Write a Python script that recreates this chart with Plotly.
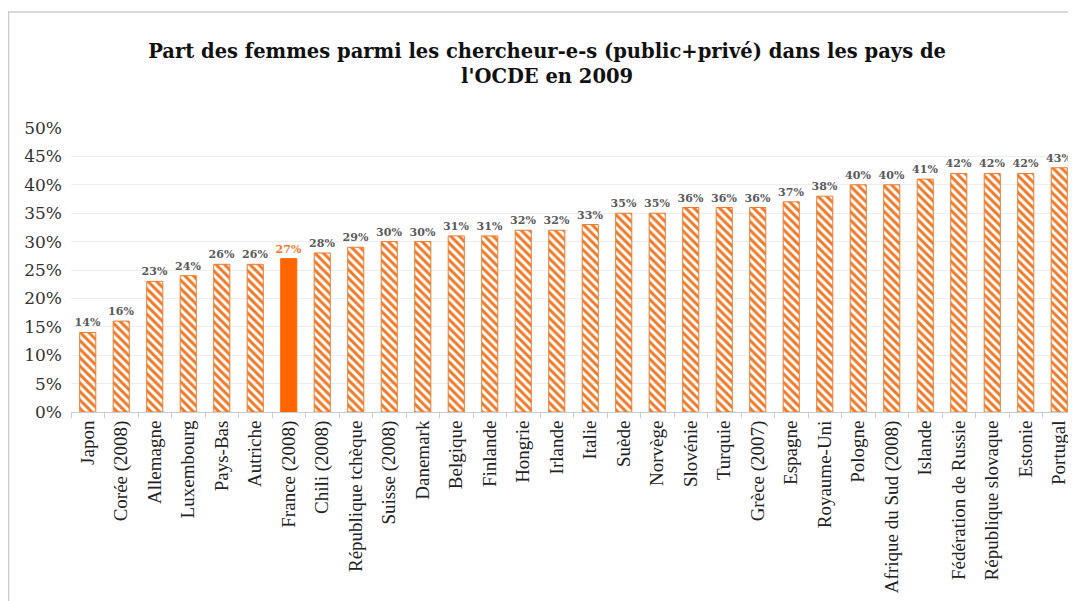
import plotly.graph_objects as go

countries = ["Japon", "Corée (2008)", "Allemagne", "Luxembourg", "Pays-Bas", "Autriche",
             "France (2008)", "Chili (2008)", "République tchèque", "Suisse (2008)", "Danemark",
             "Belgique", "Finlande", "Hongrie", "Irlande", "Italie", "Suède", "Norvège",
             "Slovénie", "Turquie", "Grèce (2007)", "Espagne", "Royaume-Uni", "Pologne",
             "Afrique du Sud (2008)", "Islande", "Fédération de Russie", "République slovaque",
             "Estonie", "Portugal"]
values = [14, 16, 23, 24, 26, 26, 27, 28, 29, 30, 30, 31, 31, 32, 32, 33, 35, 35, 36, 36,
          36, 37, 38, 40, 40, 41, 42, 42, 42, 43]
highlight = "France (2008)"
y_ticks = [0, 5, 10, 15, 20, 25, 30, 35, 40, 45, 50]

ORANGE = "#EE7A2A"
SOLID = "#FF6600"

W, H = 1076, 601
L, R, T, B = 63, 8, 120, 197
pw, ph = W - L - R, H - T - B

shapes_pat = ["" if c == highlight else "\\" for c in countries]
colors = [SOLID if c == highlight else ORANGE for c in countries]
label_colors = [ORANGE if c == highlight else "#5A5A5A" for c in countries]

fig = go.Figure()
fig.add_trace(go.Bar(
    x=countries, y=values,
    marker=dict(
        color=colors,
        line=dict(color=colors, width=1),
        pattern=dict(shape=shapes_pat, fgcolor=colors, bgcolor="#FFFFFF",
                     size=6, solidity=0.5, fillmode="replace"),
    ),
    text=[f"<b>{v}%</b>" for v in values],
    textposition="outside",
    constraintext="none",
    textfont=dict(family="DejaVu Serif", size=11, color=label_colors),
    cliponaxis=False,
    hoverinfo="skip",
))

fy = lambda py: (H - B - py) / ph   # figure pixel y -> paper y
fx = lambda px: (px - L) / pw       # figure pixel x -> paper x

fig.update_layout(
    width=W, height=H,
    margin=dict(l=L, r=R, t=T, b=B),
    paper_bgcolor="white", plot_bgcolor="white",
    bargap=0.52,
    showlegend=False,
    uniformtext=dict(mode=False),
    title=dict(
        text="<b>Part des femmes parmi les chercheur-e-s (public+privé) dans les pays de<br>l'OCDE en 2009</b>",
        x=0.501, xanchor="center", y=1 - 50 / H, yanchor="middle",
        font=dict(family="DejaVu Serif", size=19.5, color="#111111"),
    ),
    xaxis=dict(
        tickangle=-90,
        tickfont=dict(family="Liberation Serif", size=19, color="#222222"),
        showline=True, linecolor="#C8CDD4", linewidth=1,
        ticks="outside", ticklen=5, tickcolor="#C8CDD4",
        tickson="boundaries",
        showgrid=False,
    ),
    yaxis=dict(
        range=[0, 50],
        tickvals=y_ticks,
        ticktext=[f"{t}%" for t in y_ticks],
        tickfont=dict(family="DejaVu Serif", size=17, color="#333333"),
        ticklabelstandoff=8,
        showgrid=True, gridcolor="#EDEDED", gridwidth=1,
        zeroline=False,
        ticks="", ticklen=0,
    ),
    shapes=[
        dict(type="line", xref="paper", yref="paper",
             x0=fx(0), x1=fx(W), y0=fy(4), y1=fy(4),
             line=dict(color="#CCCCCC", width=1.5)),
        dict(type="line", xref="paper", yref="paper",
             x0=fx(0.5), x1=fx(0.5), y0=fy(H), y1=fy(4),
             line=dict(color="#CCCCCC", width=1.5)),
    ],
)

fig.write_html("out.html")
